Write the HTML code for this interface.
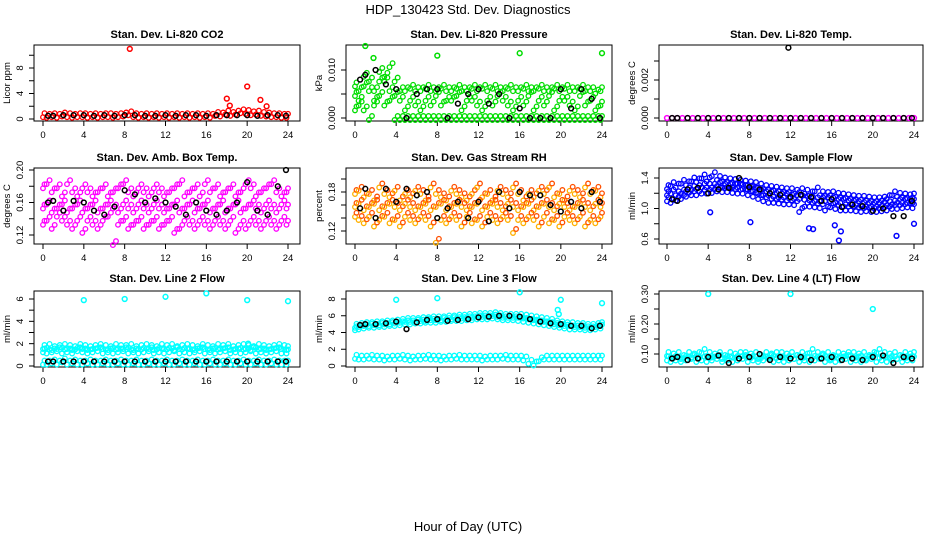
<!DOCTYPE html>
<html><head><meta charset="utf-8">
<style>
html,body{margin:0;padding:0;background:#fff;}
svg{display:block;font-family:"Liberation Sans",Arial,sans-serif;}
</style></head>
<body>
<svg id="chart" width="936" height="540" viewBox="0 0 936 540" xmlns="http://www.w3.org/2000/svg">
<rect x="0" y="0" width="936" height="540" fill="#fff"/>
<text x="468" y="14" font-size="13" text-anchor="middle">HDP_130423 Std. Dev. Diagnostics</text>
<text x="468" y="531" font-size="13" text-anchor="middle">Hour of Day (UTC)</text>
</svg>
<script>
// ---------- data ----------
const halfHours=[0,0.5,1,1.5,2,2.5,3,3.5,4,4.5,5,5.5,6,6.5,7,7.5,8,8.5,9,9.5,10,10.5,11,11.5,12,12.5,13,13.5,14,14.5,15,15.5,16,16.5,17,17.5,18,18.5,19,19.5,20,20.5,21,21.5,22,22.5,23,23.5,24];
const hours=[0.5,1,2,3,4,5,6,7,8,9,10,11,12,13,14,15,16,17,18,19,20,21,22,23,23.8];
const xTicks=[0,4,8,12,16,20,24];

// CO2
const co2Red=[0.6,0.5,0.6,0.5,0.7,0.6,0.5,0.6,0.6,0.5,0.6,0.5,0.6,0.6,0.5,0.6,0.7,0.9,0.6,0.5,0.6,0.5,0.6,0.5,0.6,0.5,0.6,0.5,0.6,0.5,0.6,0.5,0.6,0.5,0.8,0.7,1.0,0.8,1.0,1.2,1.1,0.9,1.0,0.8,0.7,0.6,0.6,0.5,0.5];
const co2Black=[0.5,0.5,0.6,0.6,0.6,0.5,0.6,0.5,0.6,0.6,0.5,0.5,0.6,0.5,0.6,0.6,0.5,0.6,0.6,0.6,0.6,0.5,0.6,0.6,0.5];
const co2OutX=[8.5,18,18.3,20,21.3,21.9];
const co2OutY=[11,3.2,2.1,5.1,3.0,2.0];
// Pressure
const presGreenA=[0.007,0.006,0.009,0.008,0.006,0.010,0.008,0.011,0.008,0.006,0.006,0.0065,0.006,0.006,0.0065,0.006,0.006,0.0065,0.006,0.006,0.0065,0.006,0.006,0.0065,0.006,0.0065,0.006,0.0065,0.006,0.006,0.0065,0.006,0.006,0.0065,0.006,0.006,0.0065,0.006,0.006,0.0065,0.006,0.0065,0.006,0.006,0.0065,0.006,0.006,0.0055,0.006];
const presGreenB=[0.002,0.003,0.002,0.000,0.004,0.005,0.003,0.004,0.005,0.004,0.002,0.004,0.003,0.002,0.004,0.003,0.005,0.003,0.004,0.004,0.005,0.002,0.004,0.004,0.003,0.002,0.004,0.003,0.005,0.004,0.003,0.002,0.004,0.003,0.005,0.002,0.004,0.003,0.005,0.002,0.004,0.004,0.003,0.002,0.005,0.003,0.004,0.002,0.003];
const presGreenC=[0.005,0.004,0.007,0.006,0.003,0.008,0.009,0.006,0,0,0,0,0,0,0,0,0,0,0,0,0,0,0,0,0,0,0,0,0,0,0,0,0,0,0,0,0,0,0,0,0,0,0,0,0,0,0,0,0];
const presBlack=[0.008,0.009,0.010,0.007,0.006,0,0.005,0.006,0.006,0,0.003,0.005,0.006,0.003,0.005,0,0.002,0,0,0,0.006,0.002,0.006,0.004,0];
const presOutX=[1,8,16,24,1.8];
const presOutY=[0.015,0.013,0.0135,0.0135,0.0125];
// Li-820 temp
const tempMag=[0,0,0,0,0,0,0,0,0,0,0,0,0,0,0,0,0,0,0,0,0,0,0,0,0,0,0,0,0,0,0,0,0,0,0,0,0,0,0,0,0,0,0,0,0,0,0,0,0];
const tempBlack=[0,0,0,0,0,0,0,0,0,0,0,0,0,0,0,0,0,0,0,0,0,0,0,0,0];
const tempOutX=[11.8];
const tempOutY=[0.0037];
// Amb box temp
const ambA=[0.18,0.185,0.175,0.18,0.17,0.185,0.175,0.17,0.18,0.175,0.17,0.175,0.18,0.17,0.175,0.18,0.185,0.175,0.17,0.18,0.175,0.17,0.18,0.175,0.17,0.175,0.18,0.185,0.17,0.175,0.18,0.17,0.185,0.175,0.18,0.17,0.175,0.18,0.17,0.175,0.185,0.18,0.17,0.175,0.18,0.185,0.175,0.17,0.175];
const ambB=[0.155,0.16,0.15,0.155,0.16,0.15,0.155,0.16,0.15,0.155,0.16,0.15,0.155,0.16,0.155,0.15,0.16,0.155,0.15,0.16,0.155,0.15,0.16,0.155,0.15,0.155,0.16,0.15,0.155,0.16,0.15,0.155,0.16,0.15,0.155,0.16,0.15,0.155,0.16,0.15,0.155,0.16,0.155,0.15,0.16,0.155,0.15,0.16,0.155];
const ambC=[0.135,0.14,0.13,0.145,0.14,0.135,0.13,0.14,0.125,0.14,0.135,0.13,0.14,0.145,0.11,0.135,0.14,0.13,0.135,0.14,0.13,0.135,0.14,0.13,0.135,0.14,0.125,0.13,0.14,0.135,0.13,0.14,0.135,0.13,0.14,0.135,0.13,0.14,0.125,0.135,0.13,0.14,0.135,0.13,0.14,0.135,0.13,0.14,0.135];
const ambBlack=[0.16,0.162,0.15,0.162,0.16,0.15,0.145,0.155,0.175,0.17,0.16,0.165,0.16,0.155,0.145,0.16,0.15,0.145,0.15,0.16,0.185,0.15,0.145,0.18,0.2];
// Gas stream RH
const rhA=[0.18,0.185,0.175,0.18,0.17,0.19,0.18,0.175,0.185,0.17,0.18,0.175,0.185,0.18,0.17,0.19,0.18,0.175,0.17,0.185,0.18,0.175,0.17,0.18,0.19,0.175,0.18,0.17,0.185,0.18,0.175,0.19,0.18,0.17,0.18,0.175,0.185,0.18,0.19,0.175,0.18,0.17,0.185,0.18,0.175,0.19,0.18,0.185,0.175];
const rhB=[0.16,0.165,0.155,0.16,0.165,0.155,0.16,0.165,0.16,0.155,0.165,0.16,0.155,0.16,0.165,0.155,0.16,0.165,0.155,0.16,0.165,0.16,0.155,0.16,0.165,0.155,0.16,0.165,0.16,0.155,0.165,0.16,0.155,0.16,0.165,0.155,0.16,0.165,0.16,0.155,0.165,0.16,0.155,0.16,0.165,0.16,0.155,0.165,0.16];
const rhC=[0.145,0.14,0.135,0.145,0.13,0.14,0.145,0.135,0.14,0.13,0.145,0.14,0.135,0.145,0.14,0.13,0.105,0.14,0.135,0.145,0.14,0.13,0.145,0.135,0.14,0.13,0.145,0.14,0.135,0.145,0.14,0.12,0.14,0.135,0.145,0.14,0.13,0.145,0.135,0.14,0.13,0.145,0.14,0.135,0.145,0.13,0.14,0.135,0.145];
const rhBlack=[0.155,0.185,0.14,0.185,0.165,0.185,0.175,0.18,0.14,0.155,0.165,0.14,0.165,0.135,0.18,0.155,0.18,0.175,0.175,0.16,0.15,0.165,0.155,0.18,0.165];
// Sample flow
const flowA=[1.28,1.32,1.3,1.35,1.33,1.38,1.37,1.42,1.38,1.45,1.4,1.38,1.37,1.36,1.35,1.34,1.33,1.32,1.3,1.28,1.27,1.26,1.25,1.24,1.24,1.22,1.24,1.22,1.2,1.25,1.2,1.19,1.2,1.18,1.17,1.16,1.15,1.14,1.14,1.13,1.12,1.12,1.13,1.15,1.2,1.18,1.17,1.16,1.17];
const flowB=[1.2,1.22,1.2,1.22,1.25,1.27,1.28,1.3,1.3,1.3,1.32,1.3,1.3,1.3,1.3,1.28,1.27,1.25,1.22,1.2,1.2,1.18,1.17,1.17,1.16,1.15,1.15,1.14,1.13,1.12,1.12,1.12,1.12,1.1,1.1,1.08,1.08,1.07,1.06,1.05,1.05,1.05,1.06,1.07,1.08,1.1,1.1,1.1,1.1];
const flowC=[1.12,1.1,1.13,1.15,1.18,1.2,1.2,1.22,1.22,1.23,1.25,1.24,1.24,1.23,1.22,1.22,1.2,1.18,1.15,1.12,1.1,1.1,1.09,1.08,1.08,1.07,0.98,1.05,1.05,1.04,1.03,1.0,1.04,1.02,1.0,1.0,1.0,0.99,0.98,0.99,0.98,0.98,0.99,1.0,1.02,1.02,1.03,1.04,1.03];
const flowBlack=[1.12,1.1,1.25,1.27,1.2,1.25,1.27,1.4,1.28,1.25,1.2,1.18,1.15,1.18,1.15,1.1,1.12,1.02,1.05,1.03,0.97,1.0,0.9,0.9,1.1];
const flowOutX=[8.1,13.8,14.2,16.3,16.7,16.9,24,22.3,4.2];
const flowOutY=[0.82,0.74,0.73,0.78,0.58,0.7,0.8,0.64,0.95];
// Line 2
const l2A=[1.7,1.8,1.6,1.7,1.8,1.7,1.6,1.8,1.7,1.6,1.7,1.8,1.7,1.6,1.8,1.7,1.7,1.8,1.6,1.7,1.8,1.7,1.6,1.8,1.7,1.8,1.6,1.7,1.8,1.7,1.6,1.8,1.7,1.6,1.8,1.7,1.8,1.6,1.7,1.8,1.7,1.6,1.8,1.7,1.6,1.7,1.8,1.7,1.6];
const l2B=[1.4,1.3,1.4,1.5,1.3,1.4,1.3,1.5,1.4,1.3,1.4,1.5,1.3,1.4,1.3,1.4,1.5,1.3,1.4,1.3,1.4,1.5,1.3,1.4,1.3,1.4,1.5,1.3,1.4,1.3,1.4,1.5,1.3,1.4,1.3,1.4,1.5,1.3,1.4,1.3,1.4,1.5,1.3,1.4,1.3,1.4,1.5,1.3,1.3];
const l2C=[0.3,0.3,0.4,0.3,0.5,0.3,0.4,0.3,0.3,0.4,0.3,0.3,0.4,0.3,0.3,0.4,0.3,0.3,0.4,0.3,0.3,0.4,0.3,0.3,0.4,0.3,0.3,0.4,0.3,0.3,0.4,0.3,0.3,0.4,0.3,0.3,0.4,0.3,0.3,0.4,0.3,0.3,0.4,0.3,0.3,0.4,0.3,0.3,0.3];
const l2Black=[0.4,0.4,0.4,0.4,0.4,0.4,0.4,0.4,0.4,0.4,0.4,0.4,0.4,0.4,0.4,0.4,0.4,0.4,0.4,0.4,0.4,0.4,0.4,0.4,0.4];
const l2OutX=[4,8,12,16,20,24,20.1];
const l2OutY=[5.9,6.0,6.2,6.5,5.9,5.8,2.0];
// Line 3
const l3A=[4.8,4.9,5.0,5.0,5.1,5.1,5.2,5.2,5.3,5.4,5.5,5.5,5.5,5.6,5.6,5.7,5.7,5.7,5.8,5.8,5.9,5.9,6.0,6.0,6.1,6.1,6.1,6.2,6.1,6.0,6.0,6.0,6.0,5.9,5.8,5.7,5.6,5.5,5.4,5.2,5.1,5.0,5.0,4.9,4.9,4.8,4.8,4.9,5.0];
const l3B=[4.5,4.6,4.7,4.8,4.8,4.9,4.9,5.0,5.0,5.1,5.2,5.2,5.3,5.3,5.4,5.4,5.4,5.5,5.5,5.6,5.6,5.6,5.7,5.7,5.8,5.8,5.8,5.9,5.8,5.7,5.7,5.7,5.6,5.5,5.4,5.3,5.2,5.1,5.0,4.9,4.8,4.7,4.6,4.6,4.6,4.5,4.5,4.6,4.7];
const l3C=[1.1,1.0,1.0,1.1,1.0,1.0,0.9,1.0,1.0,1.1,1.0,0.9,1.0,1.0,1.1,1.0,1.0,0.9,1.0,1.0,1.1,1.0,1.0,1.0,1.0,0.9,1.0,1.0,1.0,1.1,1.0,1.0,1.0,0.9,0.5,0.3,0.8,1.0,1.0,1.0,1.0,1.0,1.0,1.0,1.0,1.0,1.0,1.0,1.0];
const l3Black=[4.9,5.0,5.0,5.1,5.3,4.4,5.2,5.5,5.6,5.4,5.5,5.6,5.8,5.9,6.0,6.0,5.9,5.6,5.3,5.1,5.0,4.8,4.8,4.5,4.8];
const l3OutX=[4,8,16,19.7,19.8,20,24];
const l3OutY=[7.9,8.1,8.8,6.7,6.2,7.9,7.5];
// Line 4
const l4A=[0.1,0.095,0.1,0.09,0.1,0.095,0.1,0.11,0.1,0.095,0.1,0.09,0.1,0.095,0.1,0.1,0.095,0.1,0.09,0.1,0.095,0.1,0.1,0.095,0.1,0.09,0.1,0.095,0.11,0.1,0.095,0.1,0.09,0.1,0.095,0.1,0.1,0.095,0.1,0.09,0.1,0.11,0.1,0.095,0.1,0.09,0.1,0.095,0.1];
const l4B=[0.085,0.08,0.085,0.08,0.085,0.09,0.08,0.085,0.08,0.085,0.09,0.08,0.085,0.08,0.085,0.09,0.08,0.085,0.08,0.085,0.09,0.08,0.085,0.08,0.085,0.09,0.08,0.085,0.08,0.085,0.09,0.08,0.085,0.08,0.085,0.09,0.08,0.085,0.08,0.085,0.09,0.08,0.085,0.08,0.085,0.09,0.08,0.085,0.085];
const l4Black=[0.085,0.09,0.08,0.085,0.09,0.095,0.07,0.085,0.09,0.1,0.08,0.09,0.085,0.09,0.08,0.085,0.09,0.08,0.085,0.08,0.09,0.095,0.07,0.09,0.085];
const l4OutX=[4,12,20];
const l4OutY=[0.30,0.30,0.25];

// ---------- drawing ----------
const NS="http://www.w3.org/2000/svg";
const svg=document.getElementById('chart');
function mk(tag,attrs,parent){const e=document.createElementNS(NS,tag);for(const k in attrs)e.setAttribute(k,attrs[k]);(parent||svg).appendChild(e);return e;}

const cols=[{bx0:34,bx1:300,px0:43,px24:288,tl:23,yl:10},{bx0:346,bx1:612,px0:355,px24:602,tl:335,yl:322},{bx0:659,bx1:923,px0:667,px24:914,tl:648,yl:635}];
const rows=[{by0:45,by1:121,t:38},{by0:168,by1:244,t:161},{by0:291,by1:367,t:282}];
// marker cluster offsets (hours, px) used to render dense 1-min data blobs
const clusterDX=[-0.15,0.15];
const clusterDY=[2,-2];

function makePanel(name,title,ylab,c,r,v0,p0,v1,p1,ticks,labels,fmt){
  const col=cols[c],row=rows[r];
  const g=mk('g',{});
  
  
  const xs=v=>col.px0+(v/24)*(col.px24-col.px0);
  const ys=v=>p0+(v-v0)*(p1-p0)/(v1-v0);
  const t=mk('text',{x:(col.bx0+col.bx1)/2,y:row.t,'font-size':11,'font-weight':'bold','text-anchor':'middle'},g);t.textContent=title;
  
  
  const box=mk('rect',{x:col.bx0,y:row.by0,width:col.bx1-col.bx0,height:row.by1-row.by0,fill:'none',stroke:'#000','stroke-width':1},g);
  
  
  const xa=mk('g',{},g);
  
  
  mk('line',{x1:xs(0),x2:xs(24),y1:row.by1,y2:row.by1,stroke:'#000'},xa);
  xTicks.forEach(v=>{mk('line',{x1:xs(v),x2:xs(v),y1:row.by1,y2:row.by1+5,stroke:'#000'},xa);
    const l=mk('text',{x:xs(v),y:row.by1+17,'font-size':9.5,'text-anchor':'middle'},xa);l.textContent=v;});
  const ya=mk('g',{},g);
  
  
  mk('line',{x1:col.bx0,x2:col.bx0,y1:ys(ticks[0]),y2:ys(ticks[ticks.length-1]),stroke:'#000'},ya);
  ticks.forEach(v=>{mk('line',{x1:col.bx0-5,x2:col.bx0,y1:ys(v),y2:ys(v),stroke:'#000'},ya);});
  labels.forEach(v=>{const y=ys(v);const l=mk('text',{x:col.tl,y:y,'font-size':9.5,'text-anchor':'middle',transform:`rotate(-90 ${col.tl} ${y})`},ya);l.textContent=v.toFixed(fmt);});
  const yl=mk('text',{x:col.yl,y:(row.by0+row.by1)/2,'font-size':9.5,'text-anchor':'middle',transform:`rotate(-90 ${col.yl} ${(row.by0+row.by1)/2})`},g);yl.textContent=ylab;
  
  
  return {g,xs,ys,name};
}
function series(p,xv,yv,color,label){
  const sg=mk('g',{fill:'none',stroke:color,'stroke-width':1.5},p.g);
  
  
  for(let i=0;i<yv.length;i++){
    const c=mk('circle',{cx:p.xs(xv[i]).toFixed(1),cy:p.ys(yv[i]).toFixed(1),r:2.4},sg);
    
    
  }
}
function dense(p,arr,color,label,alt){
  const sg=mk('g',{fill:'none','stroke-width':1.3},p.g);
  
  
  for(let i=0;i<arr.length;i++){
    for(let k=0;k<clusterDX.length;k++){
      const h=Math.min(24,Math.max(0,halfHours[i]+clusterDX[k]));
      const c=mk('circle',{cx:p.xs(h).toFixed(1),cy:(p.ys(arr[i])+clusterDY[k]).toFixed(1),r:2.3,stroke:(alt&&k%2===1)?alt:color},sg);
      
      
    }
  }
}

let p;
p=makePanel('co2-panel','Stan. Dev. Li-820 CO2','Licor ppm',0,0,0,119,8,68,[0,2,4,6,8,10],[0,4,8],0);
dense(p,co2Red,'#ff0000','co2-red');series(p,co2OutX,co2OutY,'#ff0000','co2-outlier');series(p,hours,co2Black,'#000','co2-black');
p=makePanel('pressure-panel','Stan. Dev. Li-820 Pressure','kPa',1,0,0,118,0.01,70,[0,0.005,0.01],[0,0.01],3);
dense(p,presGreenC,'#00dd00','pressure-green-c');dense(p,presGreenB,'#00dd00','pressure-green-b');dense(p,presGreenA,'#00dd00','pressure-green-a');series(p,presOutX,presOutY,'#00dd00','pressure-outlier');series(p,hours,presBlack,'#000','pressure-black');
p=makePanel('temp-panel','Stan. Dev. Li-820 Temp.','degrees C',2,0,0,118,0.002,80,[0,0.001,0.002,0.003],[0,0.002],3);
series(p,halfHours,tempMag,'#ff00ff','temp-magenta');series(p,hours,tempBlack,'#000','temp-black');series(p,tempOutX,tempOutY,'#000','temp-outlier');
p=makePanel('amb-temp-panel','Stan. Dev. Amb. Box Temp.','degrees C',0,1,0.12,235,0.20,170,[0.12,0.14,0.16,0.18,0.2],[0.12,0.16,0.2],2);
dense(p,ambA,'#ff00ff','amb-a');dense(p,ambB,'#ff00ff','amb-b');dense(p,ambC,'#ff00ff','amb-c');series(p,hours,ambBlack,'#000','amb-black');
p=makePanel('rh-panel','Stan. Dev. Gas Stream RH','percent',1,1,0.12,231,0.18,192,[0.12,0.14,0.16,0.18,0.2],[0.12,0.18],2);
dense(p,rhA,'#ffb000','rh-a','#ff5000');dense(p,rhB,'#ffb000','rh-b','#ff5000');dense(p,rhC,'#ffb000','rh-c','#ff5000');series(p,hours,rhBlack,'#000','rh-black');
p=makePanel('sample-flow-panel','Stan. Dev. Sample Flow','ml/min',2,1,0.6,239,1.4,178,[0.6,0.8,1.0,1.2,1.4],[0.6,1.0,1.4],1);
dense(p,flowA,'#0000ff','flow-a');dense(p,flowB,'#0000ff','flow-b');dense(p,flowC,'#0000ff','flow-c');series(p,flowOutX,flowOutY,'#0000ff','flow-outlier');series(p,hours,flowBlack,'#000','flow-black');
p=makePanel('line2-panel','Stan. Dev. Line 2 Flow','ml/min',0,2,0,366,6,299,[0,1,2,3,4,5,6],[0,2,4,6],0);
dense(p,l2A,'#00ffff','line2-a');dense(p,l2B,'#00ffff','line2-b');dense(p,l2C,'#00ffff','line2-c');series(p,l2OutX,l2OutY,'#00ffff','line2-outlier');series(p,hours,l2Black,'#000','line2-black');
p=makePanel('line3-panel','Stan. Dev. Line 3 Flow','ml/min',1,2,0,366,8,299,[0,2,4,6,8],[0,2,4,6,8],0);
dense(p,l3A,'#00ffff','line3-a');dense(p,l3B,'#00ffff','line3-b');dense(p,l3C,'#00ffff','line3-c');series(p,l3OutX,l3OutY,'#00ffff','line3-outlier');series(p,hours,l3Black,'#000','line3-black');
p=makePanel('line4-panel','Stan. Dev. Line 4 (LT) Flow','ml/min',2,2,0.1,354,0.3,294,[0.1,0.15,0.2,0.25,0.3],[0.1,0.2,0.3],2);
dense(p,l4A,'#00ffff','line4-a');dense(p,l4B,'#00ffff','line4-b');series(p,l4OutX,l4OutY,'#00ffff','line4-outlier');series(p,hours,l4Black,'#000','line4-black');
</script>
</body></html>
